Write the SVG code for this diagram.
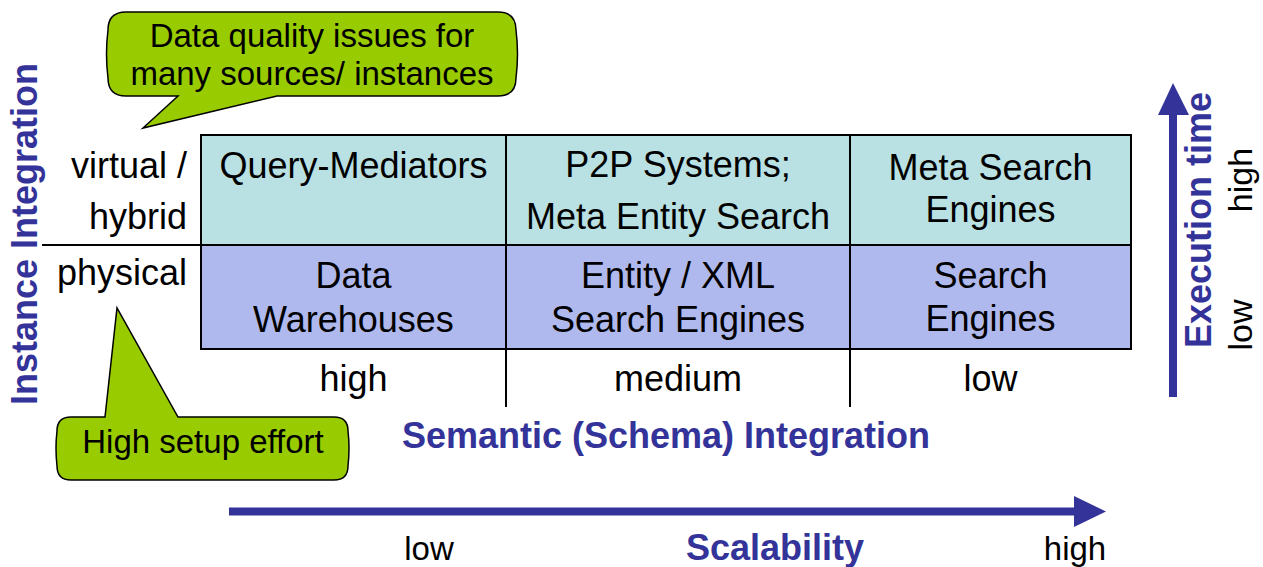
<svg xmlns="http://www.w3.org/2000/svg" width="1263" height="567" viewBox="0 0 1263 567">
<style>
text{font-family:"Liberation Sans",Arial,sans-serif;fill:#000}
.t{font-size:36px;text-anchor:middle}
.l{font-size:36px}
.r{font-size:34px;text-anchor:middle}
.s{font-size:33px;text-anchor:middle}
.c{font-size:33px;text-anchor:middle}
.b{font-size:36px;font-weight:bold;fill:#333399;text-anchor:middle}
.line{stroke:#000;stroke-width:2;fill:none}
.callout{fill:#99cc00;stroke:#000;stroke-width:1.5}
</style>
<rect width="1263" height="567" fill="#fff"/>
<g id="table">
<rect x="201" y="135" width="930" height="110" fill="#b9e0e2"/>
<rect x="201" y="245" width="930" height="104" fill="#b0b9ed"/>
</g>
<g id="connectors">
<rect x="201" y="135" width="930" height="214" class="line"/>
<line x1="42" y1="245" x2="1131" y2="245" class="line"/>
<line x1="506" y1="135" x2="506" y2="407" class="line"/>
<line x1="850" y1="135" x2="850" y2="407" class="line"/>
<rect x="229" y="507.5" width="848" height="8" fill="#333399"/>
<polygon points="1074,496 1106,511.5 1074,527" fill="#333399"/>
<rect x="1169" y="113" width="8" height="284" fill="#333399"/>
<polygon points="1158,115 1173,83 1189,115" fill="#333399"/>
</g>
<g id="cell-query-mediators"><text class="t" x="353.5" y="178">Query-Mediators</text></g>
<g id="cell-p2p"><text class="t" x="678" y="177">P2P Systems;</text><text class="t" x="678" y="229">Meta Entity Search</text></g>
<g id="cell-meta-search"><text class="t" x="990.5" y="180">Meta Search</text><text class="t" x="990.5" y="222">Engines</text></g>
<g id="cell-data-warehouses"><text class="t" x="353.5" y="288">Data</text><text class="t" x="353.5" y="332">Warehouses</text></g>
<g id="cell-entity-xml"><text class="t" x="678" y="288">Entity / XML</text><text class="t" x="678" y="332">Search Engines</text></g>
<g id="cell-search-engines"><text class="t" x="990.5" y="288">Search</text><text class="t" x="990.5" y="331">Engines</text></g>
<g id="row-labels">
<text class="l" x="187" y="178" text-anchor="end">virtual /</text>
<text class="l" x="187" y="229" text-anchor="end">hybrid</text>
<text class="l" x="187" y="285" text-anchor="end">physical</text>
</g>
<g id="col-labels">
<text class="l" x="353.5" y="391" text-anchor="middle">high</text>
<text class="l" x="678" y="391" text-anchor="middle">medium</text>
<text class="l" x="990.5" y="391" text-anchor="middle">low</text>
</g>
<g id="axis-semantic"><text class="b" x="666" y="448">Semantic (Schema) Integration</text></g>
<g id="axis-scalability">
<text class="s" x="429" y="560">low</text>
<text class="b" x="775" y="560">Scalability</text>
<text class="s" x="1075" y="560">high</text>
</g>
<g id="axis-instance"><text class="b" transform="translate(37,234) rotate(-90)">Instance Integration</text></g>
<g id="axis-execution">
<text class="b" transform="translate(1211,220) rotate(-90)">Execution time</text>
<text class="r" transform="translate(1252,180) rotate(-90)">high</text>
<text class="r" transform="translate(1252,325) rotate(-90)">low</text>
</g>
<g id="callout-quality">
<path class="callout" d="M126,12 L498,12 Q516,12 516,30 Q519,54 516,78 Q516,96 498,96 L277,96 L143,128 L178,96 L126,96 Q108,96 108,78 Q105,54 108,30 Q108,12 126,12 Z"/>
<text class="c" x="312" y="47">Data quality issues for</text>
<text class="c" x="312" y="85">many sources/ instances</text>
</g>
<g id="callout-setup">
<path class="callout" d="M105,417 L117,308 L178,417 L334,417 Q348,417 348,431 Q350,448 348,466 Q348,480 334,480 L71,480 Q57,480 57,466 Q55,448 57,431 Q57,417 71,417 Z"/>
<text class="c" x="203" y="453">High setup effort</text>
</g>
</svg>
